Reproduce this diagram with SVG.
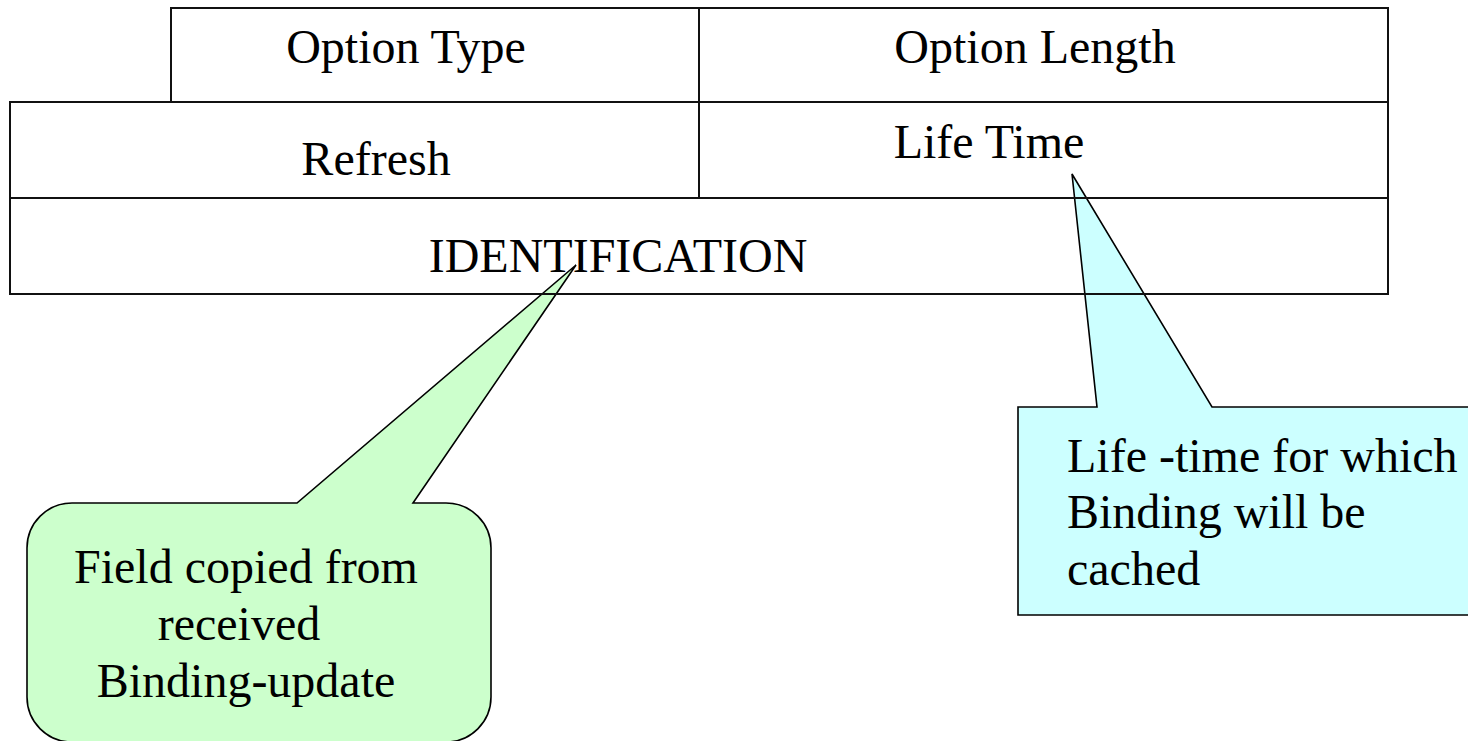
<svg xmlns="http://www.w3.org/2000/svg" width="1468" height="741" viewBox="0 0 1468 741">
  <style>
    .cell { fill: none; stroke: #111; stroke-width: 2; }
    .lbl { font-family: "Liberation Serif", "Times New Roman", serif; font-size: 48px; fill: #000; }
    .mid { text-anchor: middle; }
    .callout { stroke: #000; stroke-width: 1.6; stroke-linejoin: miter; }
  </style>
  <rect width="1468" height="741" fill="#fff"/>

  <!-- pointer callouts (drawn beneath the field grid) -->
  <g id="connectors">
    <g id="note-identification">
      <path class="callout" fill="#CCFFCC" d="M 72 503 L 297 503 L 576 265 L 413 503 L 446 503 A 45 45 0 0 1 491 548 L 491 697 A 45 45 0 0 1 446 742 L 72 742 A 45 45 0 0 1 27 697 L 27 548 A 45 45 0 0 1 72 503 Z"/>
      <text class="lbl mid" x="246" y="583">Field copied from</text>
      <text class="lbl mid" x="239" y="640">received</text>
      <text class="lbl mid" x="246" y="697">Binding-update</text>
    </g>
    <g id="note-lifetime">
      <path class="callout" fill="#CCFFFF" d="M 1018 407 L 1097 407 L 1072 174 L 1212 407 L 1476 407 L 1476 615 L 1018 615 Z"/>
      <text class="lbl" x="1067" y="472">Life -time for which</text>
      <text class="lbl" x="1067" y="528">Binding will be</text>
      <text class="lbl" x="1067" y="585">cached</text>
    </g>
  </g>

  <!-- option header fields -->
  <g id="field-option-type">
    <rect class="cell" x="171" y="8" width="528" height="94"/>
    <text class="lbl mid" x="406" y="63">Option Type</text>
  </g>
  <g id="field-option-length">
    <rect class="cell" x="699" y="8" width="689" height="94"/>
    <text class="lbl mid" x="1035" y="63">Option Length</text>
  </g>
  <g id="field-refresh">
    <rect class="cell" x="10" y="102" width="689" height="96"/>
    <text class="lbl mid" x="376" y="175">Refresh</text>
  </g>
  <g id="field-lifetime">
    <rect class="cell" x="699" y="102" width="689" height="96"/>
    <text class="lbl mid" x="989" y="158">Life Time</text>
  </g>
  <g id="field-identification">
    <rect class="cell" x="10" y="198" width="1378" height="96"/>
    <text class="lbl mid" x="618" y="272">IDENTIFICATION</text>
  </g>
</svg>
